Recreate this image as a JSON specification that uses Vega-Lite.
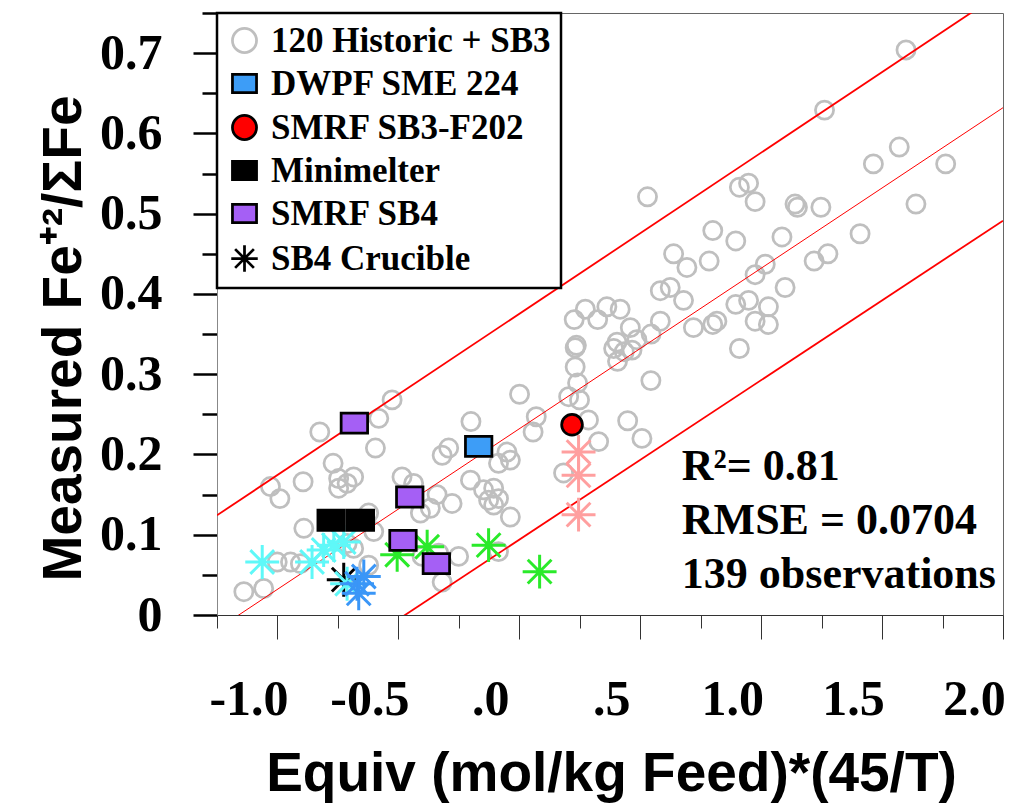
{
  "$schema": "https://vega.github.io/schema/vega-lite/v6.json",
  "width": 786,
  "height": 602,
  "autosize": {"type": "none"},
  "padding": {"left": 217, "top": 13, "right": 9, "bottom": 188},
  "background": "white",
  "config": {
    "view": {"stroke": "#666", "strokeWidth": 1},
    "axis": {"grid": false},
    "legend": {
      "orient": "top-left", "offset": 0, "padding": 10,
      "strokeColor": "black", "strokeWidth": 2.5, "fillColor": "white",
      "labelFont": "Liberation Serif", "labelFontWeight": "bold", "labelFontSize": 35,
      "labelColor": "black", "labelLimit": 0, "rowPadding": 7,
      "symbolSize": 580, "symbolStrokeWidth": 2.75, "symbolOpacity": 1, "labelOffset": 9
    }
  },
  "datasets": {
    "obs": [
      {"series": "120 Historic + SB3", "x": 1.599, "y": 0.704},
      {"series": "120 Historic + SB3", "x": 1.262, "y": 0.629},
      {"series": "120 Historic + SB3", "x": 1.571, "y": 0.583},
      {"series": "120 Historic + SB3", "x": 1.464, "y": 0.562},
      {"series": "120 Historic + SB3", "x": 1.763, "y": 0.562},
      {"series": "120 Historic + SB3", "x": 0.530, "y": 0.521},
      {"series": "120 Historic + SB3", "x": 0.910, "y": 0.533},
      {"series": "120 Historic + SB3", "x": 0.948, "y": 0.538},
      {"series": "120 Historic + SB3", "x": 0.975, "y": 0.515},
      {"series": "120 Historic + SB3", "x": 1.140, "y": 0.512},
      {"series": "120 Historic + SB3", "x": 1.150, "y": 0.508},
      {"series": "120 Historic + SB3", "x": 1.247, "y": 0.508},
      {"series": "120 Historic + SB3", "x": 1.640, "y": 0.512},
      {"series": "120 Historic + SB3", "x": 0.800, "y": 0.479},
      {"series": "120 Historic + SB3", "x": 0.895, "y": 0.466},
      {"series": "120 Historic + SB3", "x": 1.086, "y": 0.471},
      {"series": "120 Historic + SB3", "x": 1.409, "y": 0.475},
      {"series": "120 Historic + SB3", "x": 0.638, "y": 0.450},
      {"series": "120 Historic + SB3", "x": 0.693, "y": 0.433},
      {"series": "120 Historic + SB3", "x": 0.785, "y": 0.441},
      {"series": "120 Historic + SB3", "x": 1.219, "y": 0.441},
      {"series": "120 Historic + SB3", "x": 1.276, "y": 0.450},
      {"series": "120 Historic + SB3", "x": 1.017, "y": 0.437},
      {"series": "120 Historic + SB3", "x": 0.975, "y": 0.424},
      {"series": "120 Historic + SB3", "x": 1.099, "y": 0.408},
      {"series": "120 Historic + SB3", "x": 0.583, "y": 0.404},
      {"series": "120 Historic + SB3", "x": 0.624, "y": 0.408},
      {"series": "120 Historic + SB3", "x": 0.679, "y": 0.392},
      {"series": "120 Historic + SB3", "x": 0.895, "y": 0.387},
      {"series": "120 Historic + SB3", "x": 0.948, "y": 0.392},
      {"series": "120 Historic + SB3", "x": 1.030, "y": 0.384},
      {"series": "120 Historic + SB3", "x": 0.975, "y": 0.366},
      {"series": "120 Historic + SB3", "x": 1.030, "y": 0.362},
      {"series": "120 Historic + SB3", "x": 0.720, "y": 0.358},
      {"series": "120 Historic + SB3", "x": 0.800, "y": 0.362},
      {"series": "120 Historic + SB3", "x": 0.817, "y": 0.366},
      {"series": "120 Historic + SB3", "x": 0.910, "y": 0.332},
      {"series": "120 Historic + SB3", "x": 0.583, "y": 0.366},
      {"series": "120 Historic + SB3", "x": 0.545, "y": 0.350},
      {"series": "120 Historic + SB3", "x": 0.486, "y": 0.343},
      {"series": "120 Historic + SB3", "x": 0.459, "y": 0.358},
      {"series": "120 Historic + SB3", "x": 0.417, "y": 0.381},
      {"series": "120 Historic + SB3", "x": 0.362, "y": 0.384},
      {"series": "120 Historic + SB3", "x": 0.324, "y": 0.368},
      {"series": "120 Historic + SB3", "x": 0.273, "y": 0.381},
      {"series": "120 Historic + SB3", "x": 0.227, "y": 0.368},
      {"series": "120 Historic + SB3", "x": 0.404, "y": 0.340},
      {"series": "120 Historic + SB3", "x": 0.390, "y": 0.332},
      {"series": "120 Historic + SB3", "x": 0.434, "y": 0.328},
      {"series": "120 Historic + SB3", "x": 0.466, "y": 0.330},
      {"series": "120 Historic + SB3", "x": 0.406, "y": 0.316},
      {"series": "120 Historic + SB3", "x": 0.236, "y": 0.336},
      {"series": "120 Historic + SB3", "x": 0.231, "y": 0.333},
      {"series": "120 Historic + SB3", "x": 0.231, "y": 0.309},
      {"series": "120 Historic + SB3", "x": 0.241, "y": 0.289},
      {"series": "120 Historic + SB3", "x": 0.204, "y": 0.272},
      {"series": "120 Historic + SB3", "x": 0.249, "y": 0.268},
      {"series": "120 Historic + SB3", "x": 0.544, "y": 0.292},
      {"series": "120 Historic + SB3", "x": 0.001, "y": 0.275},
      {"series": "120 Historic + SB3", "x": 0.070, "y": 0.247},
      {"series": "120 Historic + SB3", "x": 0.057, "y": 0.228},
      {"series": "120 Historic + SB3", "x": 0.286, "y": 0.243},
      {"series": "120 Historic + SB3", "x": 0.328, "y": 0.216},
      {"series": "120 Historic + SB3", "x": 0.448, "y": 0.242},
      {"series": "120 Historic + SB3", "x": 0.507, "y": 0.220},
      {"series": "120 Historic + SB3", "x": -0.526, "y": 0.268},
      {"series": "120 Historic + SB3", "x": -0.581, "y": 0.245},
      {"series": "120 Historic + SB3", "x": -0.825, "y": 0.228},
      {"series": "120 Historic + SB3", "x": -0.200, "y": 0.241},
      {"series": "120 Historic + SB3", "x": -0.595, "y": 0.208},
      {"series": "120 Historic + SB3", "x": -0.770, "y": 0.189},
      {"series": "120 Historic + SB3", "x": -0.292, "y": 0.208},
      {"series": "120 Historic + SB3", "x": -0.319, "y": 0.199},
      {"series": "120 Historic + SB3", "x": -0.051, "y": 0.203},
      {"series": "120 Historic + SB3", "x": -0.037, "y": 0.193},
      {"series": "120 Historic + SB3", "x": -0.086, "y": 0.189},
      {"series": "120 Historic + SB3", "x": 0.183, "y": 0.177},
      {"series": "120 Historic + SB3", "x": -1.029, "y": 0.160},
      {"series": "120 Historic + SB3", "x": -0.990, "y": 0.145},
      {"series": "120 Historic + SB3", "x": -0.894, "y": 0.166},
      {"series": "120 Historic + SB3", "x": -0.747, "y": 0.170},
      {"series": "120 Historic + SB3", "x": -0.747, "y": 0.158},
      {"series": "120 Historic + SB3", "x": -0.712, "y": 0.164},
      {"series": "120 Historic + SB3", "x": -0.685, "y": 0.172},
      {"series": "120 Historic + SB3", "x": -0.485, "y": 0.172},
      {"series": "120 Historic + SB3", "x": -0.437, "y": 0.164},
      {"series": "120 Historic + SB3", "x": -0.340, "y": 0.150},
      {"series": "120 Historic + SB3", "x": -0.278, "y": 0.139},
      {"series": "120 Historic + SB3", "x": -0.202, "y": 0.168},
      {"series": "120 Historic + SB3", "x": -0.148, "y": 0.156},
      {"series": "120 Historic + SB3", "x": -0.106, "y": 0.158},
      {"series": "120 Historic + SB3", "x": -0.127, "y": 0.143},
      {"series": "120 Historic + SB3", "x": -0.086, "y": 0.145},
      {"series": "120 Historic + SB3", "x": -0.106, "y": 0.137},
      {"series": "120 Historic + SB3", "x": -0.037, "y": 0.122},
      {"series": "120 Historic + SB3", "x": -0.409, "y": 0.127},
      {"series": "120 Historic + SB3", "x": -0.368, "y": 0.133},
      {"series": "120 Historic + SB3", "x": -0.891, "y": 0.108},
      {"series": "120 Historic + SB3", "x": -0.623, "y": 0.127},
      {"series": "120 Historic + SB3", "x": -0.602, "y": 0.104},
      {"series": "120 Historic + SB3", "x": -0.712, "y": 0.089},
      {"series": "120 Historic + SB3", "x": -1.001, "y": 0.066},
      {"series": "120 Historic + SB3", "x": -0.946, "y": 0.066},
      {"series": "120 Historic + SB3", "x": -0.905, "y": 0.064},
      {"series": "120 Historic + SB3", "x": -0.685, "y": 0.083},
      {"series": "120 Historic + SB3", "x": -0.402, "y": 0.073},
      {"series": "120 Historic + SB3", "x": -0.333, "y": 0.077},
      {"series": "120 Historic + SB3", "x": -0.251, "y": 0.073},
      {"series": "120 Historic + SB3", "x": -0.086, "y": 0.079},
      {"series": "120 Historic + SB3", "x": -0.623, "y": 0.062},
      {"series": "120 Historic + SB3", "x": -1.139, "y": 0.029},
      {"series": "120 Historic + SB3", "x": -1.057, "y": 0.033},
      {"series": "120 Historic + SB3", "x": -0.319, "y": 0.041},
      {"series": "DWPF SME 224", "x": -0.168, "y": 0.210},
      {"series": "SMRF SB4", "x": -0.682, "y": 0.239},
      {"series": "SMRF SB4", "x": -0.453, "y": 0.147},
      {"series": "SMRF SB4", "x": -0.481, "y": 0.093},
      {"series": "SMRF SB4", "x": -0.343, "y": 0.064},
      {"series": "Minimelter", "x": -0.778, "y": 0.118},
      {"series": "Minimelter", "x": -0.657, "y": 0.118},
      {"series": "SMRF SB3-F202", "x": 0.218, "y": 0.237}
    ],
    "crucible": [
      {"set": "1", "x": -1.063, "y": 0.066},
      {"set": "1", "x": -0.857, "y": 0.066},
      {"set": "1", "x": -0.809, "y": 0.081},
      {"set": "1", "x": -0.767, "y": 0.087},
      {"set": "1", "x": -0.726, "y": 0.091},
      {"set": "2", "x": -0.726, "y": 0.044},
      {"set": "1", "x": -0.712, "y": 0.039},
      {"set": "3", "x": -0.671, "y": 0.039},
      {"set": "3", "x": -0.643, "y": 0.048},
      {"set": "3", "x": -0.664, "y": 0.027},
      {"set": "4", "x": -0.505, "y": 0.075},
      {"set": "4", "x": -0.381, "y": 0.085},
      {"set": "4", "x": -0.127, "y": 0.087},
      {"set": "4", "x": 0.084, "y": 0.054},
      {"set": "5", "x": 0.245, "y": 0.203},
      {"set": "5", "x": 0.245, "y": 0.174},
      {"set": "5", "x": 0.245, "y": 0.125}
    ],
    "fit": [
      {"line": "upper", "x": -1.25, "y": 0.1242},
      {"line": "upper", "x": 2.0, "y": 0.7768},
      {"line": "fit", "x": -1.25, "y": -0.018},
      {"line": "fit", "x": 2.0, "y": 0.632},
      {"line": "lower", "x": -1.25, "y": -0.1545},
      {"line": "lower", "x": 2.0, "y": 0.4913}
    ],
    "stats": [
      {"note": "R\u00b2= 0.81\nRMSE = 0.0704\n139 observations"}
    ]
  },
  "layer": [
    {
      "data": {"name": "obs"},
      "transform": [{"filter": "datum.series == '120 Historic + SB3'"}],
      "mark": {"type": "point", "opacity": 1, "strokeWidth": 2.75, "size": 330},
      "encoding": {
        "x": {
          "field": "x", "type": "quantitative", "title": "Equiv (mol/kg Feed)*(45/T)",
          "scale": {"domain": [-1.25, 2], "nice": false, "zero": false},
          "axis": {
            "values": [-1.25, -1, -0.75, -0.5, -0.25, 0, 0.25, 0.5, 0.75, 1, 1.25, 1.5, 1.75, 2],
            "labelExpr": "abs(datum.value*2-round(datum.value*2))>0.01 ? '' : (abs(datum.value)<0.001 ? '.0' : (abs(datum.value-0.5)<0.001 ? '.5' : replace(format(datum.value,'.1f'),'\u2212','-')))",
            "labelFont": "Liberation Serif", "labelFontWeight": "bold", "labelFontSize": 50,
            "labelColor": "black", "labelOffset": -29, "labelPadding": 35, "labelFlush": false,
            "labelOverlap": false, "labelBaseline": "top",
            "tickSize": {"condition": {"test": "abs(datum.value*2-round(datum.value*2))<0.01", "value": 24}, "value": 13},
            "tickColor": "#333", "tickWidth": 1, "domainColor": "#333", "domainWidth": 1,
            "titleFont": "Liberation Sans", "titleFontWeight": "bold", "titleFontSize": 55,
            "titleColor": "black", "titleX": 394, "titleY": 175, "titleBaseline": "alphabetic", "titleAlign": "center"
          }
        },
        "y": {
          "field": "y", "type": "quantitative", "title": "Measured Fe\u207a\u00b2/\u03a3Fe",
          "scale": {"domain": [0, 0.75], "nice": false, "zero": false},
          "axis": {
            "values": [0, 0.05, 0.1, 0.15, 0.2, 0.25, 0.3, 0.35, 0.4, 0.45, 0.5, 0.55, 0.6, 0.65, 0.7, 0.75],
            "labelExpr": "abs(datum.value*10-round(datum.value*10))>0.01 ? '' : (datum.value<0.001 ? '0' : format(datum.value,'.1f'))",
            "labelFont": "Liberation Serif", "labelFontWeight": "bold", "labelFontSize": 50,
            "labelColor": "black", "labelPadding": 31, "labelFlush": false, "labelOverlap": false,
            "labelBaseline": "middle",
            "tickSize": {"condition": {"test": "abs(datum.value*10-round(datum.value*10))<0.01", "value": 24}, "value": 15},
            "tickColor": "black", "tickWidth": 2.5, "domainColor": "#888", "domainWidth": 1,
            "titleFont": "Liberation Sans", "titleFontWeight": "bold", "titleFontSize": 55,
            "titleColor": "black", "titleAngle": -90, "titleX": -137, "titleY": 325,
            "titleBaseline": "alphabetic", "titleAlign": "center"
          }
        },
        "shape": {"field": "series", "type": "nominal", "legend": {"title": null},
          "scale": {"domain": ["120 Historic + SB3", "DWPF SME 224", "SMRF SB3-F202", "Minimelter", "SMRF SB4", "SB4 Crucible"],
            "range": ["circle", "M-1,-0.76L1,-0.76L1,0.76L-1,0.76Z", "circle", "M-1,-0.76L1,-0.76L1,0.76L-1,0.76Z", "M-1,-0.76L1,-0.76L1,0.76L-1,0.76Z", "M0,-1.1L0,1.1M-1.1,0L1.1,0M-0.78,-0.78L0.78,0.78M-0.78,0.78L0.78,-0.78"]}},
        "fill": {"field": "series", "type": "nominal", "legend": {"title": null},
          "scale": {"domain": ["120 Historic + SB3", "DWPF SME 224", "SMRF SB3-F202", "Minimelter", "SMRF SB4", "SB4 Crucible"],
            "range": ["transparent", "#3d9df7", "#ff0000", "#000000", "#a55ff5", "transparent"]}},
        "stroke": {"field": "series", "type": "nominal", "legend": {"title": null},
          "scale": {"domain": ["120 Historic + SB3", "DWPF SME 224", "SMRF SB3-F202", "Minimelter", "SMRF SB4", "SB4 Crucible"],
            "range": ["#bfbfbf", "#000000", "#000000", "#000000", "#000000", "#000000"]}}
      }
    },
    {
      "data": {"name": "fit"},
      "transform": [{"filter": "datum.line != 'fit'"}],
      "mark": {"type": "line", "color": "#ff0000", "strokeWidth": 1.8, "clip": true},
      "encoding": {
        "x": {"field": "x", "type": "quantitative", "title": "Equiv (mol/kg Feed)*(45/T)"},
        "y": {"field": "y", "type": "quantitative", "title": "Measured Fe\u207a\u00b2/\u03a3Fe"},
        "detail": {"field": "line"}
      }
    },
    {
      "data": {"name": "fit"},
      "transform": [{"filter": "datum.line == 'fit'"}],
      "mark": {"type": "line", "color": "#ff0000", "strokeWidth": 1, "clip": true},
      "encoding": {
        "x": {"field": "x", "type": "quantitative", "title": "Equiv (mol/kg Feed)*(45/T)"},
        "y": {"field": "y", "type": "quantitative", "title": "Measured Fe\u207a\u00b2/\u03a3Fe"}
      }
    },
    {
      "data": {"name": "crucible"},
      "mark": {"type": "point", "filled": false, "opacity": 1, "strokeWidth": 3, "size": 1150,
        "shape": "M0,-1L0,1M-1,0L1,0M-0.7,-0.7L0.7,0.7M-0.7,0.7L0.7,-0.7"},
      "encoding": {
        "x": {"field": "x", "type": "quantitative", "title": "Equiv (mol/kg Feed)*(45/T)"},
        "y": {"field": "y", "type": "quantitative", "title": "Measured Fe\u207a\u00b2/\u03a3Fe"},
        "color": {"field": "set", "type": "nominal", "legend": null,
          "scale": {"domain": ["1", "2", "3", "4", "5"], "range": ["#5ff8f8", "#000000", "#3a96f7", "#2aea2a", "#ff9f9f"]}}
      }
    },
    {
      "data": {"name": "obs"},
      "transform": [{"filter": "datum.series == 'DWPF SME 224' || datum.series == 'Minimelter' || datum.series == 'SMRF SB4'"}],
      "mark": {"type": "point", "opacity": 1, "strokeWidth": 2.75, "size": 700},
      "encoding": {
        "x": {"field": "x", "type": "quantitative", "title": "Equiv (mol/kg Feed)*(45/T)"},
        "y": {"field": "y", "type": "quantitative", "title": "Measured Fe\u207a\u00b2/\u03a3Fe"},
        "shape": {"field": "series", "type": "nominal", "legend": {"title": null}},
        "fill": {"field": "series", "type": "nominal", "legend": {"title": null}},
        "stroke": {"field": "series", "type": "nominal", "legend": {"title": null}}
      }
    },
    {
      "data": {"name": "obs"},
      "transform": [{"filter": "datum.series == 'SMRF SB3-F202'"}],
      "mark": {"type": "point", "opacity": 1, "strokeWidth": 2.75, "size": 430},
      "encoding": {
        "x": {"field": "x", "type": "quantitative", "title": "Equiv (mol/kg Feed)*(45/T)"},
        "y": {"field": "y", "type": "quantitative", "title": "Measured Fe\u207a\u00b2/\u03a3Fe"},
        "shape": {"field": "series", "type": "nominal", "legend": {"title": null}},
        "fill": {"field": "series", "type": "nominal", "legend": {"title": null}},
        "stroke": {"field": "series", "type": "nominal", "legend": {"title": null}}
      }
    },
    {
      "data": {"name": "stats"},
      "mark": {"type": "text", "lineBreak": "\n",
        "font": "Liberation Serif", "fontWeight": "bold", "fontSize": 44, "lineHeight": 54,
        "align": "left", "baseline": "middle", "color": "black"},
      "encoding": {
        "x": {"datum": 0.672, "type": "quantitative"},
        "y": {"datum": 0.1844, "type": "quantitative"},
        "text": {"field": "note", "type": "nominal"}
      }
    }
  ]
}
